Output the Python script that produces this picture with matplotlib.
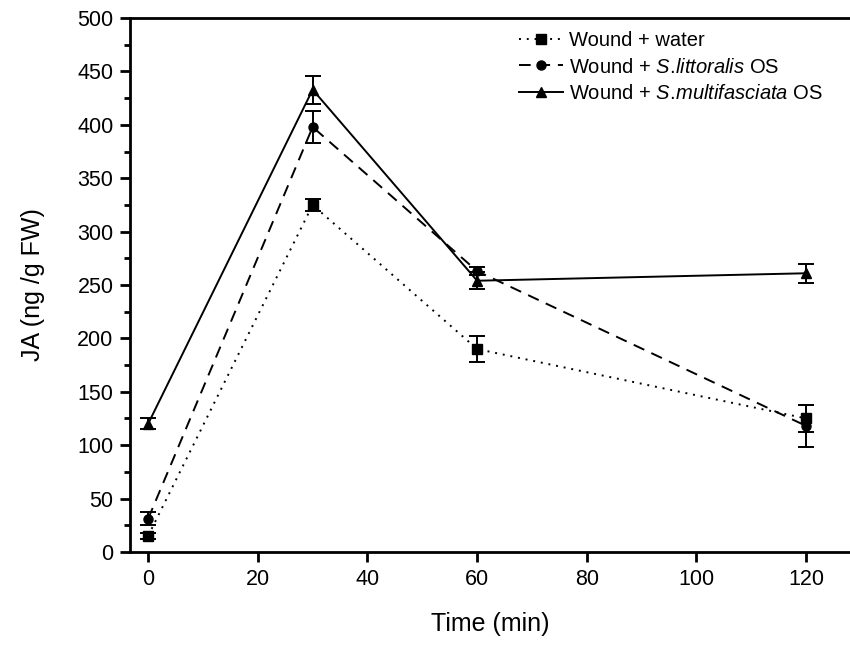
import matplotlib
matplotlib.use("Agg")
import matplotlib.pyplot as plt
from matplotlib.ticker import MultipleLocator
from matplotlib.lines import Line2D

plt.rcParams['font.family'] = ['Liberation Sans', 'DejaVu Sans']
plt.rcParams['mathtext.fontset'] = 'custom'
plt.rcParams['mathtext.rm'] = 'Liberation Sans'
plt.rcParams['mathtext.it'] = 'Liberation Sans:italic'

# time points (min)
time = [0, 30, 60, 120]

# JA (ng/g FW) values and error bars
water = [15, 325, 190, 125]
water_err = [3, 6, 12, 13]
littoralis = [31, 398, 263, 118]
littoralis_err = [6, 15, 4, 20]
multi = [120, 433, 254, 261]
multi_err = [5, 13, 8, 9]

labels = ['Wound + water',
          'Wound + $\\it{S.\\!littoralis}$ OS',
          'Wound + $\\it{S.\\!multifasciata}$ OS']
styles = [('s', (0, (1, 3))), ('o', (0, (6, 4))), ('^', '-')]

fig = plt.figure(figsize=(8.5, 6.47), dpi=100)
ax = fig.add_axes([0.153, 0.147, 0.847, 0.825])

kw = dict(color='black', lw=1.4, capsize=6, elinewidth=1.4, capthick=1.4, markersize=6.5)
handles = []
for vals, errs, (m, ls) in zip([water, littoralis, multi],
                               [water_err, littoralis_err, multi_err], styles):
    ax.errorbar(time, vals, yerr=errs, fmt=m, ls=ls, **kw)
    handles.append(Line2D([], [], color='black', lw=1.4, ls=ls, marker=m, markersize=6.5))

ax.set_xlim(-3.3, 128)
ax.set_ylim(0, 500)
ax.xaxis.set_major_locator(MultipleLocator(20))
ax.yaxis.set_major_locator(MultipleLocator(50))
ax.yaxis.set_minor_locator(MultipleLocator(25))
ax.spines['right'].set_visible(False)
for s in ['left', 'bottom', 'top']:
    ax.spines[s].set_linewidth(2)
ax.tick_params(which='major', direction='out', length=7, width=2, labelsize=15.5, pad=5)
ax.tick_params(which='minor', direction='out', length=4, width=2)
ax.tick_params(top=False, right=False)

ax.set_xlabel('Time (min)', fontsize=18, labelpad=16)
ax.set_ylabel('JA (ng /g FW)', fontsize=18, labelpad=23)

ax.legend(handles, labels, loc='upper left', bbox_to_anchor=(0.54, 0.975), frameon=False,
          fontsize=14.5, handlelength=2.2, handletextpad=0.3, labelspacing=0.35,
          borderaxespad=0, borderpad=0)

fig.savefig('out.png', dpi=100)
